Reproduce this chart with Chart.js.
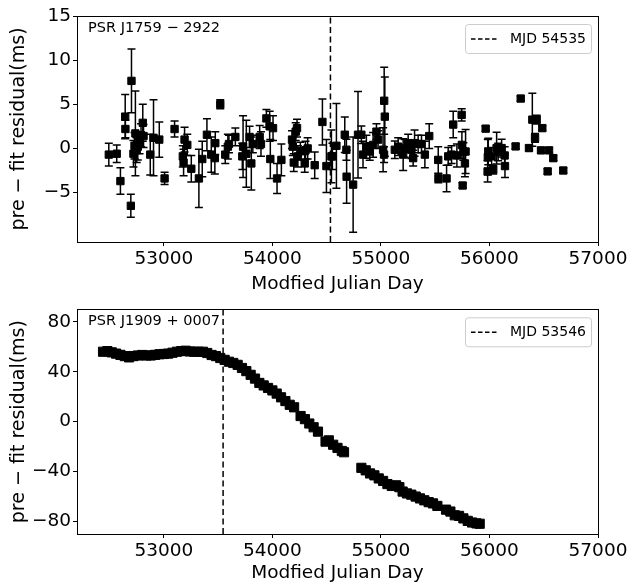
<!DOCTYPE html>
<html>
<head>
<meta charset="utf-8">
<script src="https://cdn.jsdelivr.net/npm/chart.js@4.4.1/dist/chart.umd.min.js"></script>
<style>
html,body{margin:0;padding:0;background:#fff;}
#wrap{position:relative;width:631px;height:585px;}
canvas{position:absolute;left:0;}
</style>
</head>
<body>
<div id="wrap">
  <canvas id="top" width="631" height="295" style="top:0"></canvas>
  <canvas id="bot" width="631" height="290" style="top:295px"></canvas>
</div>
<script>
// tick labels
const xTicks=[53000,54000,55000,56000,57000];
const topYTicks=[-5,0,5,10,15];
const botYTicks=[-80,-40,0,40,80];

// PSR J1759-2922 : MJD, residual (ms), error (ms)
const topMJD=[52493,52566,52600,52644,52646,52696,52702,52720,52730,52738,52750,52760,52776,52790,52806,52813,52875,52905,52958,53007,
53099,53175,53182,53191,53216,53253,53323,53354,53397,53437,53470,53474,53520,53566,53590,53600,53659,53723,53730,53760,
53790,53806,53820,53883,53895,53945,53975,53981,54006,54043,54083,54181,54188,54197,54215,54227,54235,54258,54298,54305,
54325,54390,54461,54498,54544,54553,54590,54667,54682,54684,54744,54789,54820,54835,54866,54897,54928,54959,54974,55020,
55029,55030,55036,55128,55159,55205,55220,55251,55280,55297,55310,55343,55374,55405,55445,55528,55530,55605,55620,55651,
55666,55700,55744,55746,55753,55760,55774,55780,55965,55983,55985,55989,56020,56035,56066,56080,56112,56140,56143,56241,
56288,56364,56395,56420,56435,56475,56487,56536,56549,56588,56680];
const topRes=[-0.7,-0.6,-3.7,3.6,2.2,-6.5,7.65,-0.6,0.3,1.7,-0.2,0.2,0.6,1.5,2.9,1.4,-0.7,1.2,1.0,-3.4,
2.2,-0.9,-1.6,1.0,0.4,-2.3,-3.4,-1.2,1.55,-0.7,-1.1,0.6,5.0,-0.7,0.2,0.5,1.3,-0.9,0.2,-0.6,
1.3,-1.7,0.5,1.3,0.5,3.4,2.5,-1.2,2.3,-3.4,-1.3,1.0,0.2,-1.6,1.9,2.3,-0.9,-0.3,-1.7,-0.2,
0.0,-1.9,3.0,-2.0,-0.9,-0.9,0.3,1.55,-0.15,-3.2,-4.1,1.55,1.55,-0.7,0.2,-0.35,0.4,1.9,1.0,-0.15,
-0.7,5.4,3.6,-0.15,0.2,-0.7,0.0,0.6,-0.15,-1.1,0.6,0.5,0.5,-0.7,1.4,-1.3,-3.4,-3.4,-0.9,-0.7,
2.7,-0.8,3.8,0.4,-4.2,-0.35,-1.7,-0.35,2.24,-2.6,-1.0,-0.34,-0.9,-2.4,0.04,-0.4,0.04,-0.8,-2.0,0.23,
5.65,0.04,3.26,1.2,3.26,-0.22,2.3,-2.6,-0.22,-1.1,-2.5];
const topErr=[1.3,1.0,1.5,2.5,1.0,1.3,3.6,1.5,1.5,4.8,1.4,1.5,1.2,1.3,2.1,1.3,2.3,4.3,2.0,0.7,
0.9,1.2,1.5,1.4,1.2,1.5,3.3,2.0,1.8,2.0,1.8,1.3,0.5,1.0,1.4,1.0,1.0,1.5,3.5,3.8,
1.2,3.0,1.0,1.3,1.4,1.0,1.7,2.2,1.4,1.7,1.8,1.0,1.0,1.0,1.0,1.0,1.2,1.0,1.0,1.0,
1.2,1.5,2.6,3.0,3.0,1.5,4.8,2.0,1.2,3.0,5.4,4.9,1.0,1.5,1.3,1.0,1.4,0.9,1.0,2.5,
0.9,3.8,4.5,1.0,1.0,1.8,1.0,1.0,1.0,0.9,1.5,1.0,1.0,1.5,1.4,1.5,0.5,1.5,1.0,1.0,
1.5,1.3,0.7,1.5,0.3,1.0,1.5,2.5,0.3,1.2,2.0,1.5,1.0,0.5,1.8,1.0,1.0,1.0,1.3,0.3,
0.3,0.3,3.0,0.5,0.5,0.3,0.3,0.3,0.3,0.3,0.3];

// PSR J1909+0007 : MJD, residual (ms)
const botMJD=[52440,52480,52520,52560,52600,52640,52680,52720,52760,52800,52840,52880,52920,52960,53000,53040,53080,53120,53160,53200,
53240,53280,53320,53360,53400,53440,53480,53520,53560,53600,53640,53680,53720,53760,53800,53840,53880,53920,53960,54000,
54040,54080,54120,54160,54200,54260,54300,54340,54380,54420,54490,54520,54560,54600,54640,54660,
54820,54860,54900,54940,54980,55020,55060,55100,55140,55170,55200,55240,55280,55320,55360,55400,55440,55480,55520,55600,
55640,55680,55720,55760,55800,55840,55880,55910];
const botRes=[56,56.5,55.5,54.5,53.5,52.5,51.5,52.5,53,53.4,53,53,53.5,54,54.2,54.5,55.2,56,56.5,56.8,
56.2,56,56,56,55,53.4,52.5,51,49.5,48,47,45.5,43,40.5,37.5,34.5,31,29,27,25,
22.5,19.5,16.5,13.5,11.5,4.5,2,-1.5,-4.5,-8,-16,-15,-18.5,-21,-23.5,-24.5,
-37,-39,-41.5,-43,-45.5,-47.5,-50,-51.5,-51,-52.5,-56,-57.5,-58.5,-60,-61.5,-63,-64.5,-65.5,-67.5,-70.5,
-72,-75,-75.5,-77.5,-79.5,-80.8,-81.5,-81.8];

const topBreak=54535, botBreak=53546;
const topName="PSR J1759 \u2212 2922", botName="PSR J1909 + 0007";

const FONT="'DejaVu Sans', sans-serif";
const minus=v=>String(v).replace("-","\u2212");

function errorBars(err){
  return {id:"errorBars",beforeDatasetsDraw(chart){
    if(!err) return;
    const {ctx,scales:{x,y}}=chart;
    ctx.save();
    ctx.strokeStyle="#000";ctx.lineWidth=1.5;
    chart.data.datasets[0].data.forEach((p,i)=>{
      const e=err[i]; if(!e) return;
      const px=x.getPixelForValue(p.x), y1=y.getPixelForValue(p.y+e), y2=y.getPixelForValue(p.y-e);
      ctx.beginPath();
      ctx.moveTo(px,y1);ctx.lineTo(px,y2);
      ctx.moveTo(px-4,y1);ctx.lineTo(px+4,y1);
      ctx.moveTo(px-4,y2);ctx.lineTo(px+4,y2);
      ctx.stroke();
    });
    ctx.restore();
  }};
}

function decor(name){
  return {id:"decor",afterDraw(chart){
    const {ctx,chartArea:a}=chart;
    ctx.save();
    ctx.strokeStyle="#000";ctx.lineWidth=1;
    ctx.strokeRect(Math.round(a.left)+0.5,Math.round(a.top)+0.5,Math.round(a.right-a.left),Math.round(a.bottom-a.top));
    ctx.fillStyle="#000";ctx.textBaseline="middle";ctx.font="14.5px "+FONT;
    ctx.fillText(name,a.left+11,a.top+12);
    // legend box
    const label=chart.data.datasets[1].label;
    const w=126,h=29,lx=a.right-7-w,ly=a.top+8;
    ctx.beginPath();ctx.roundRect(lx+0.5,ly+0.5,w,h,3);
    ctx.fillStyle="rgba(255,255,255,0.85)";ctx.fill();
    ctx.strokeStyle="#cccccc";ctx.lineWidth=1;ctx.stroke();
    ctx.beginPath();ctx.setLineDash([4.5,2.5]);ctx.strokeStyle="#000";ctx.lineWidth=1.5;
    ctx.moveTo(lx+6,ly+h/2+0.5);ctx.lineTo(lx+33,ly+h/2+0.5);ctx.stroke();
    ctx.setLineDash([]);
    ctx.fillStyle="#000";ctx.font="14px "+FONT;
    ctx.fillText(label,lx+45,ly+h/2+1);
    ctx.restore();
  }};
}

function makeChart(id,mjd,res,err,ymin,ymax,yTicks,brk,name,radius,axisH,titlePad){
  const pts=mjd.map((m,i)=>({x:m,y:res[i]}));
  return new Chart(document.getElementById(id),{
    type:"scatter",
    data:{datasets:[
      {label:"data",data:pts,pointStyle:"rect",pointRadius:radius,pointHoverRadius:radius,backgroundColor:"#000",borderColor:"#000",borderWidth:1},
      {label:"MJD "+brk,data:[{x:brk,y:ymin},{x:brk,y:ymax}],showLine:true,borderColor:"#000",borderWidth:1.5,borderDash:[6,3.5],pointRadius:0}
    ]},
    options:{
      responsive:false,animation:false,
      layout:{padding:{top:ymin<-50?14.3:16,right:33,left:0,bottom:0}},
      plugins:{legend:{display:false},tooltip:{enabled:false}},
      scales:{
        x:{type:"linear",min:52200,max:57000,
          afterBuildTicks:s=>{s.ticks=xTicks.map(v=>({value:v}));},
          afterFit:s=>{s.height=axisH;},
          ticks:{color:"#000",font:{family:FONT,size:18.5},padding:2,maxRotation:0,autoSkip:false,callback:v=>String(v)},
          grid:{drawOnChartArea:false,drawTicks:true,tickLength:4,color:"#000"},
          border:{display:true,color:"#000"},
          title:{display:true,text:"Modfied Julian Day",color:"#000",font:{family:FONT,size:18.5},padding:{top:0,bottom:titlePad}}
        },
        y:{type:"linear",min:ymin,max:ymax,
          afterBuildTicks:s=>{s.ticks=yTicks.map(v=>({value:v}));},
          afterFit:s=>{s.width=77;},
          ticks:{color:"#000",font:{family:FONT,size:18.5},padding:2,autoSkip:false,callback:v=>minus(v)},
          grid:{drawOnChartArea:false,drawTicks:true,tickLength:4,color:"#000"},
          border:{display:true,color:"#000"},
          title:{display:true,text:"pre \u2212 fit residual(ms)",color:"#000",font:{family:FONT,size:19},padding:{top:8,bottom:0}}
        }
      }
    },
    plugins:[errorBars(err),decor(name)]
  });
}

makeChart("top",topMJD,topRes,topErr,-10.6,15,topYTicks,topBreak,topName,5.2,53,0);
makeChart("bot",botMJD,botRes,null,-90,90,botYTicks,botBreak,botName,6.5,51,1);
</script>
</body>
</html>
